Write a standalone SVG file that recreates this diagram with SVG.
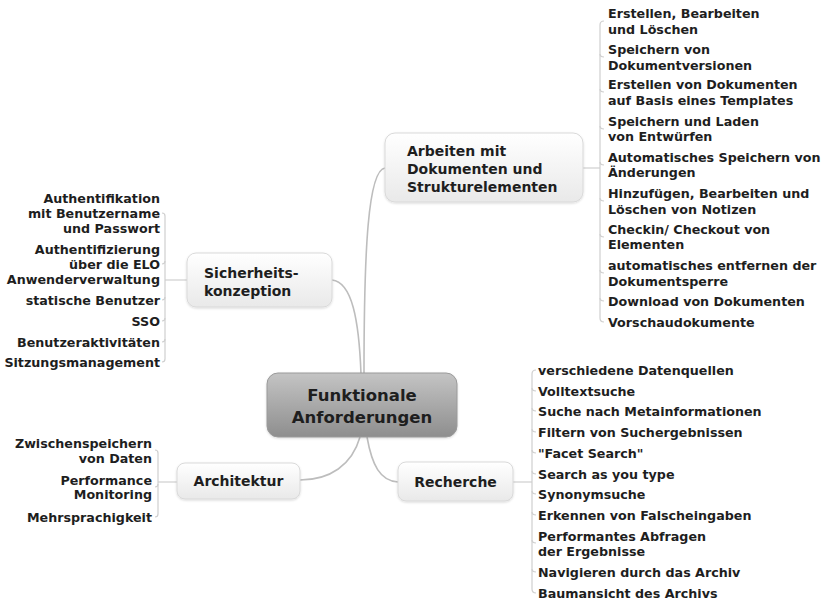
<svg xmlns="http://www.w3.org/2000/svg" width="824" height="600" viewBox="0 0 824 600">
<defs>
<linearGradient id="gNode" x1="0" y1="0" x2="0" y2="1">
<stop offset="0" stop-color="#ffffff"/>
<stop offset="1" stop-color="#e9e9e9"/>
</linearGradient>
<linearGradient id="gCentral" x1="0" y1="0" x2="0" y2="1">
<stop offset="0" stop-color="#c4c4c4"/>
<stop offset="1" stop-color="#8e8e8e"/>
</linearGradient>
<filter id="sh" x="-10%" y="-10%" width="120%" height="130%">
<feDropShadow dx="0" dy="1" stdDeviation="1.2" flood-color="#000" flood-opacity="0.15"/>
</filter>
</defs>
<style>
text{font-family:"DejaVu Sans",Verdana,sans-serif;font-weight:bold;fill:#1e1e1e}
.leaf{font-size:12.7px}
.nt{font-size:14px}
.ct{font-size:16.5px;text-anchor:middle}
.end{text-anchor:end}
.node{fill:url(#gNode);stroke:#d9d9d9;stroke-width:1;filter:url(#sh)}
.main{fill:none;stroke:#bdbdbd;stroke-width:1.6}
.sub{fill:none;stroke:#cfcfcf;stroke-width:1.2}
</style>
<rect width="824" height="600" fill="#ffffff"/>

<g id="connectors">
<path class="main" d="M361,374 C359,320 352,282 332,280"/>
<path class="main" d="M364,374 C364,250 368,170 385,168"/>
<path class="main" d="M360,437 C352,465 330,480 300,480"/>
<path class="main" d="M367,437 C372,465 380,481 398,482"/>
<!-- Sicherheit leaves -->
<path class="sub" d="M187,280 H165"/>
<path class="sub" d="M165,216 V359"/>
<path class="sub" d="M165,216 q0,-3 -3,-3 M165,261 q0,3 -3,3 M165,297 q0,3 -3,3 M165,318 q0,3 -3,3 M165,339 q0,3 -3,3 M165,359 q0,3 -3,3"/>
<!-- Arbeiten leaves -->
<path class="sub" d="M583,168 H600"/>
<path class="sub" d="M600,25 V318"/>
<path class="sub" d="M600,25 q0,-4 4,-4 M600,54 q0,3 4,3 M600,89 q0,3 4,3 M600,126 q0,3 4,3 M600,162 q0,3 4,3 M600,198 q0,3 4,3 M600,234 q0,3 4,3 M600,270 q0,3 4,3 M600,298 q0,3 4,3 M600,318 q0,4 4,4"/>
<!-- Recherche leaves -->
<path class="sub" d="M513,482 H532"/>
<path class="sub" d="M532,374 V589"/>
<path class="sub" d="M532,374 q0,-4 4,-4 M532,388 q0,3 4,3 M532,408 q0,3 4,3 M532,429 q0,3 4,3 M532,450 q0,3 4,3 M532,471 q0,3 4,3 M532,491 q0,3 4,3 M532,512 q0,3 4,3 M532,540 q0,3 4,3 M532,569 q0,3 4,3 M532,589 q0,4 4,4"/>
<!-- Architektur leaves -->
<path class="sub" d="M177,482 H158"/>
<path class="sub" d="M158,453 V514"/>
<path class="sub" d="M158,453 q0,-3 -3,-3 M158,484 q0,3 -3,3 M158,514 q0,3 -3,3"/>
</g>

<g id="central">
<rect x="267" y="373" width="190" height="64" rx="11" fill="url(#gCentral)" stroke="#9a9a9a" stroke-width="1" filter="url(#sh)"/>
<text class="ct" x="362" y="401">Funktionale</text>
<text class="ct" x="362" y="423">Anforderungen</text>
</g>

<g id="sicherheit">
<rect class="node" x="187" y="253" width="145" height="54" rx="9"/>
<text class="nt" x="204" y="278">Sicherheits-</text>
<text class="nt" x="204" y="296">konzeption</text>
</g>

<g id="arbeiten">
<rect class="node" x="385" y="133" width="198" height="69" rx="10"/>
<text class="nt" x="407" y="156">Arbeiten mit</text>
<text class="nt" x="407" y="174">Dokumenten und</text>
<text class="nt" x="407" y="192">Strukturelementen</text>
</g>

<g id="architektur">
<rect class="node" x="177" y="463" width="123" height="36" rx="8"/>
<text class="nt" x="238.5" y="486" text-anchor="middle">Architektur</text>
</g>

<g id="recherche">
<rect class="node" x="398" y="462" width="115" height="39" rx="8"/>
<text class="nt" x="455.5" y="487" text-anchor="middle">Recherche</text>
</g>

<g id="sicherheit-leaves">
<text class="leaf end" x="160" y="203">Authentifikation</text>
<text class="leaf end" x="160" y="218">mit Benutzername</text>
<text class="leaf end" x="160" y="233">und Passwort</text>
<text class="leaf end" x="160" y="254">Authentifizierung</text>
<text class="leaf end" x="160" y="269">über die ELO</text>
<text class="leaf end" x="160" y="284">Anwenderverwaltung</text>
<text class="leaf end" x="160" y="305">statische Benutzer</text>
<text class="leaf end" x="160" y="326">SSO</text>
<text class="leaf end" x="160" y="347">Benutzeraktivitäten</text>
<text class="leaf end" x="160" y="367">Sitzungsmanagement</text>
</g>

<g id="arbeiten-leaves">
<text class="leaf" x="608" y="18">Erstellen, Bearbeiten</text>
<text class="leaf" x="608" y="34">und Löschen</text>
<text class="leaf" x="608" y="54">Speichern von</text>
<text class="leaf" x="608" y="70">Dokumentversionen</text>
<text class="leaf" x="608" y="89">Erstellen von Dokumenten</text>
<text class="leaf" x="608" y="105">auf Basis eines Templates</text>
<text class="leaf" x="608" y="126">Speichern und Laden</text>
<text class="leaf" x="608" y="141">von Entwürfen</text>
<text class="leaf" x="608" y="162">Automatisches Speichern von</text>
<text class="leaf" x="608" y="177">Änderungen</text>
<text class="leaf" x="608" y="198">Hinzufügen, Bearbeiten und</text>
<text class="leaf" x="608" y="214">Löschen von Notizen</text>
<text class="leaf" x="608" y="234">Checkin/ Checkout von</text>
<text class="leaf" x="608" y="249">Elementen</text>
<text class="leaf" x="608" y="270">automatisches entfernen der</text>
<text class="leaf" x="608" y="286">Dokumentsperre</text>
<text class="leaf" x="608" y="306">Download von Dokumenten</text>
<text class="leaf" x="608" y="327">Vorschaudokumente</text>
</g>

<g id="recherche-leaves">
<text class="leaf" x="538" y="375">verschiedene Datenquellen</text>
<text class="leaf" x="538" y="396">Volltextsuche</text>
<text class="leaf" x="538" y="416">Suche nach Metainformationen</text>
<text class="leaf" x="538" y="437">Filtern von Suchergebnissen</text>
<text class="leaf" x="538" y="458">"Facet Search"</text>
<text class="leaf" x="538" y="479">Search as you type</text>
<text class="leaf" x="538" y="499">Synonymsuche</text>
<text class="leaf" x="538" y="520">Erkennen von Falscheingaben</text>
<text class="leaf" x="538" y="541">Performantes Abfragen</text>
<text class="leaf" x="538" y="556">der Ergebnisse</text>
<text class="leaf" x="538" y="577">Navigieren durch das Archiv</text>
<text class="leaf" x="538" y="598">Baumansicht des Archivs</text>
</g>

<g id="architektur-leaves">
<text class="leaf end" x="152" y="448">Zwischenspeichern</text>
<text class="leaf end" x="152" y="463">von Daten</text>
<text class="leaf end" x="152" y="485">Performance</text>
<text class="leaf end" x="152" y="499">Monitoring</text>
<text class="leaf end" x="152" y="522">Mehrsprachigkeit</text>
</g>
</svg>
